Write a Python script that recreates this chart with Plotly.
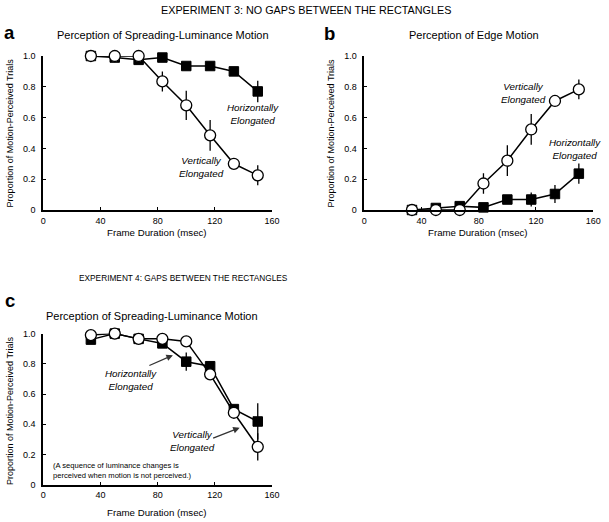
import plotly.graph_objects as go

W, H = 609, 522
frame = [33.3, 50, 66.7, 83.3, 100, 116.7, 133.3, 150]

# Panel a: Experiment 3, spreading-luminance motion
a_horiz = [1.0, 0.99, 0.975, 0.99, 0.935, 0.935, 0.90, 0.77]
a_horiz_err = [0, 0, 0, 0, 0, 0, 0, 0.07]
a_vert = [1.0, 1.0, 1.0, 0.835, 0.68, 0.485, 0.30, 0.225]
a_vert_err = [0, 0, 0, 0.065, 0.095, 0.10, 0, 0.065]

# Panel b: Experiment 3, edge motion
b_horiz = [0.0, 0.013, 0.025, 0.017, 0.068, 0.068, 0.104, 0.236]
b_horiz_err = [0, 0, 0, 0, 0, 0.045, 0.058, 0.066]
b_vert = [0.0, 0.0, 0.0, 0.172, 0.32, 0.523, 0.708, 0.783]
b_vert_err = [0, 0, 0, 0.066, 0.10, 0.10, 0, 0.064]

# Panel c: Experiment 4, spreading-luminance motion
c_horiz = [0.96, 1.0, 0.965, 0.935, 0.814, 0.784, 0.50, 0.418]
c_horiz_err = [0, 0, 0, 0, 0.06, 0, 0, 0.12]
c_vert = [0.99, 1.0, 0.965, 0.965, 0.948, 0.73, 0.476, 0.25]
c_vert_err = [0, 0, 0, 0, 0, 0, 0, 0.09]

x_ticks = [0, 40, 80, 120, 160]
y_ticks = [0, 0.2, 0.4, 0.6, 0.8, 1.0]
y_ticktext = ["0", "0.2", "0.4", "0.6", "0.8", "1.0"]

FONT = "Liberation Sans, Arial, sans-serif"

fig = go.Figure()

def px_x(p):
    return p / W

def px_y(p):
    return 1 - p / H

panels = {
    "a": dict(xd=[41, 274], yd=[52, 209], xa="x", ya="y",
              h=a_horiz, he=a_horiz_err, v=a_vert, ve=a_vert_err),
    "b": dict(xd=[368, 601], yd=[52, 209], xa="x2", ya="y2",
              h=b_horiz, he=b_horiz_err, v=b_vert, ve=b_vert_err),
    "c": dict(xd=[41, 274], yd=[335, 489], xa="x3", ya="y3",
              h=c_horiz, he=c_horiz_err, v=c_vert, ve=c_vert_err),
}

for key, p in panels.items():
    fig.add_trace(go.Scatter(
        x=frame, y=p["h"], mode="lines+markers", xaxis=p["xa"], yaxis=p["ya"],
        line=dict(color="black", width=1.5),
        marker=dict(symbol="square", size=9.5, color="black", line=dict(color="black", width=1)),
        error_y=dict(type="data", array=p["he"], color="black", thickness=1.3, width=0),
        cliponaxis=False, showlegend=False))
    fig.add_trace(go.Scatter(
        x=frame, y=p["v"], mode="lines+markers", xaxis=p["xa"], yaxis=p["ya"],
        line=dict(color="black", width=1.5),
        marker=dict(symbol="circle", size=11, color="white", line=dict(color="black", width=1.3)),
        error_y=dict(type="data", array=p["ve"], color="black", thickness=1.3, width=0),
        cliponaxis=False, showlegend=False))

axis_common = dict(showgrid=False, zeroline=False, showline=True, linecolor="black",
                   linewidth=1.8, ticks="inside", ticklen=3, tickwidth=1, tickcolor="black",
                   tickfont=dict(family=FONT, size=9, color="black"))

layout = dict(width=W, height=H, margin=dict(l=0, r=0, t=0, b=0),
              plot_bgcolor="white", paper_bgcolor="white",
              font=dict(family=FONT, color="black"))

for i, (key, p) in enumerate(panels.items()):
    sx = "" if i == 0 else str(i + 1)
    layout["xaxis" + sx] = dict(axis_common, domain=[px_x(p["xd"][0]), px_x(p["xd"][1])],
                                range=[0, 160], tickvals=x_ticks, anchor="y" + sx,
                                ticklabelstandoff=1)
    layout["yaxis" + sx] = dict(axis_common, domain=[px_y(p["yd"][1]), px_y(p["yd"][0])],
                                range=[0, 1.0], tickvals=y_ticks, ticktext=y_ticktext,
                                anchor="x" + sx, ticklabelstandoff=4)

fig.update_layout(**layout)

def txt(x, y, s, size=9, italic=False, bold=False, xanchor="center", yanchor="middle",
        align="center", angle=0):
    if italic:
        s = "<i>" + s + "</i>"
    if bold:
        s = "<b>" + s + "</b>"
    fig.add_annotation(x=px_x(x), y=px_y(y), xref="paper", yref="paper", text=s,
                       showarrow=False, xanchor=xanchor, yanchor=yanchor, align=align,
                       textangle=angle,
                       font=dict(family=FONT, size=size, color="black"))

txt(309, -3, "EXPERIMENT 3: NO GAPS BETWEEN THE RECTANGLES", size=10.8, yanchor="top")
txt(184, 278, "EXPERIMENT 4: GAPS BETWEEN THE RECTANGLES", size=8.3)

txt(-1, 28, "a", size=18.5, bold=True, xanchor="left")
txt(325, 29, "b", size=18.5, bold=True, xanchor="left")
txt(0, 301, "c", size=18.5, bold=True, xanchor="left")

txt(163, 31, "Perception of Spreading-Luminance Motion", size=11)
txt(480, 31, "Perception of Edge Motion", size=11)
txt(152, 317, "Perception of Spreading-Luminance Motion", size=11)

# axis titles
for (cx, cy) in [(157, 232), (484, 232), (157, 517)]:
    txt(cx, cy, "Frame Duration (msec)", size=9.7)
for (cx, cy) in [(7, 130), (334, 130), (7, 413)]:
    txt(cx, cy, "Proportion of Motion-Perceived Trials", size=9, angle=-90)

txt(255, 111, "Horizontally<br>Elongated", size=9.8, italic=True)
txt(202, 165, "Vertically<br>Elongated", size=9.8, italic=True)
txt(530, 90, "Vertically<br>Elongated", size=9.8, italic=True)
txt(583, 147, "Horizontally<br>Elongated", size=9.8, italic=True)
txt(130, 382, "Horizontally<br>Elongated", size=9.8, italic=True)
txt(193, 445, "Vertically<br>Elongated", size=9.8, italic=True)
txt(49, 475, "(A sequence of luminance changes is<br>perceived when motion is not perceived.)",
    size=7.6, xanchor="left", align="left")

# arrows in panel c (tail offsets in pixels)
for (x0, y0, x1, y1) in [(148, 368, 173, 357), (213, 442, 241, 431)]:
    fig.add_annotation(x=px_x(x1), y=px_y(y1), ax=x0 - x1, ay=y0 - y1,
                       xref="paper", yref="paper", axref="pixel", ayref="pixel",
                       text="", showarrow=True, arrowhead=2, arrowsize=1, arrowwidth=1.3,
                       arrowcolor="#333333")

fig.write_html("out.html", config={"displayModeBar": False, "responsive": False})

with open("out.html", "r", encoding="utf-8") as f:
    html = f.read()
html = html.replace("<body>", '<body style="margin:0;padding:0;overflow:hidden">', 1)
with open("out.html", "w", encoding="utf-8") as f:
    f.write(html)
